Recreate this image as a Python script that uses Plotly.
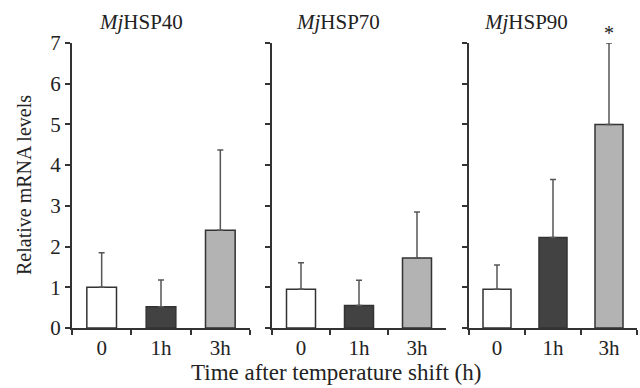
import plotly.graph_objects as go

categories = ["0", "1h", "3h"]
genes = ["HSP40", "HSP70", "HSP90"]
means = {
    "HSP40": [1.0, 0.52, 2.4],
    "HSP70": [0.95, 0.55, 1.72],
    "HSP90": [0.95, 2.22, 5.0],
}
errors_upper = {
    "HSP40": [0.85, 0.66, 1.97],
    "HSP70": [0.65, 0.62, 1.13],
    "HSP90": [0.6, 1.43, 2.0],
}
y_ticks = [0, 1, 2, 3, 4, 5, 6, 7]
bar_colors = ["#ffffff", "#424242", "#b3b3b3"]

FONT = "Times New Roman, Liberation Serif, serif"
W, H = 640, 388
ML, MR, MT, MB = 72, 3, 43, 60
PW = W - ML - MR
PH = H - MT - MB

def px_dom(a, b):
    return [(a - ML) / PW, (b - ML) / PW]

domains = [px_dom(72, 250), px_dom(272, 446), px_dom(469, 637)]
title_px = [141, 338, 526]

fig = go.Figure()
for i, g in enumerate(genes):
    xa = "x" if i == 0 else f"x{i+1}"
    ya = "y" if i == 0 else f"y{i+1}"
    fig.add_trace(go.Bar(
        x=categories, y=means[g], xaxis=xa, yaxis=ya,
        width=0.5,
        marker=dict(color=bar_colors, line=dict(color="#333333", width=1.5)),
        error_y=dict(type="data", symmetric=False, array=errors_upper[g],
                     arrayminus=[0] * len(categories),
                     color="#555555", thickness=1.5, width=3),
        showlegend=False,
    ))
    xkey = "xaxis" if i == 0 else f"xaxis{i+1}"
    ykey = "yaxis" if i == 0 else f"yaxis{i+1}"
    fig.layout[xkey] = dict(
        domain=domains[i], anchor=ya, type="category", range=[-0.5, 2.5],
        showline=True, linecolor="#333333", linewidth=2,
        ticks="outside", tickson="boundaries", ticklen=5, tickcolor="#333333", tickwidth=1.5,
        showgrid=False, zeroline=False, automargin=False,
        tickfont=dict(family=FONT, size=21, color="#222222"),
    )
    fig.layout[ykey] = dict(
        domain=[0, 1], anchor=xa, range=[0, 7], tickvals=y_ticks,
        showticklabels=(i == 0),
        showline=True, linecolor="#333333", linewidth=2,
        ticks="outside", ticklen=5, tickcolor="#333333", tickwidth=1.5,
        showgrid=False, zeroline=False, automargin=False,
        tickfont=dict(family=FONT, size=21, color="#222222"),
    )
    fig.add_annotation(
        x=(title_px[i] - ML) / PW, y=1 + (MT - 22) / PH, xref="paper", yref="paper",
        text=f"<i>Mj</i>{g}", showarrow=False, xanchor="center", yanchor="middle",
        font=dict(family=FONT, size=21, color="#222222"),
    )

# significance marker
fig.add_annotation(x="3h", y=7, xref="x3", yref="y3", text="*", showarrow=False,
                   yanchor="bottom", yshift=-3,
                   font=dict(family=FONT, size=20, color="#222222"))

fig.add_annotation(x=(24 - ML) / PW, y=(H - MB - 185) / PH, xref="paper", yref="paper",
                   text="Relative mRNA levels", textangle=-90, showarrow=False,
                   xanchor="center", yanchor="middle",
                   font=dict(family=FONT, size=20, color="#222222"))
fig.add_annotation(x=(336 - ML) / PW, y=-(372 - (H - MB)) / PH, xref="paper", yref="paper",
                   text="Time after temperature shift (h)", showarrow=False,
                   xanchor="center", yanchor="middle",
                   font=dict(family=FONT, size=23, color="#222222"))

fig.update_layout(
    width=W, height=H,
    margin=dict(l=ML, r=MR, t=MT, b=MB),
    paper_bgcolor="white", plot_bgcolor="white",
    bargap=0.5,
)
fig.write_html("out.html", config={"displayModeBar": False},
               post_script="document.body.style.margin='0';")
